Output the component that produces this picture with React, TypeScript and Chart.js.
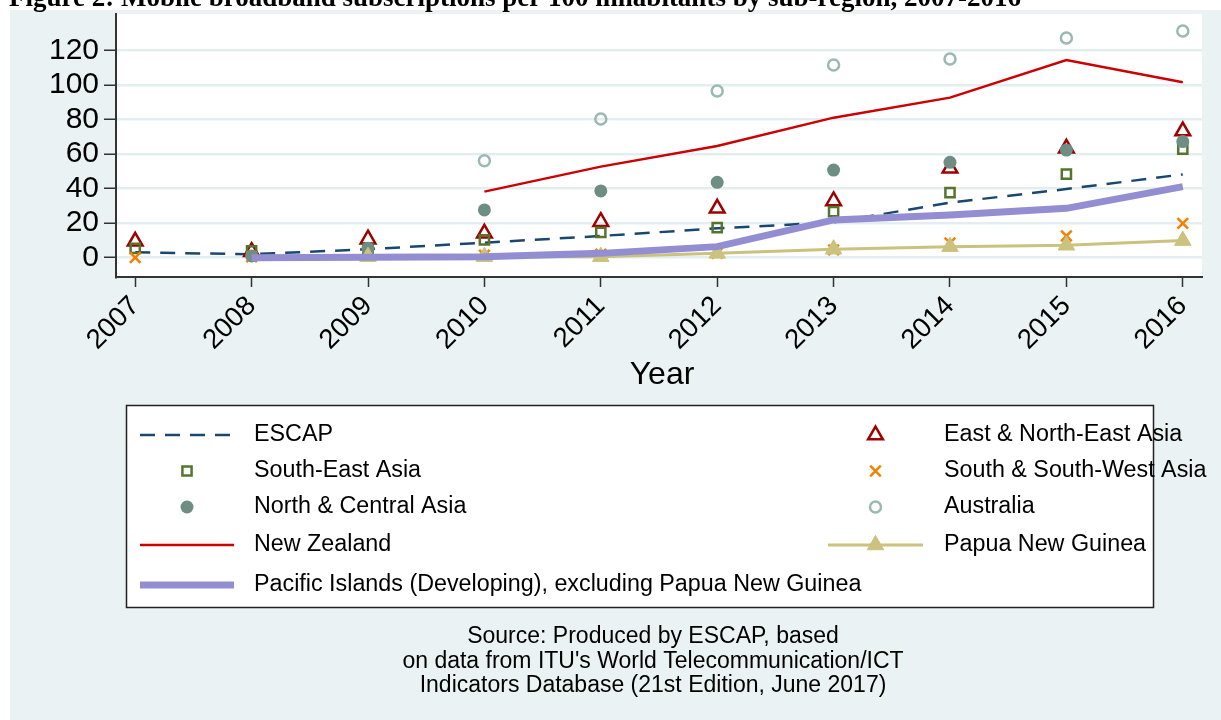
import React, { useEffect, useRef } from 'react';
import { Chart, registerables } from 'chart.js';
import { drawPoint } from 'chart.js/helpers';

Chart.register(...registerables);

const FONT = '"Liberation Sans", Arial, Helvetica, sans-serif';

const titleText = 'Figure 2: Mobile broadband subscriptions per 100 inhabitants by sub-region, 2007-2016';
const xTitle = 'Year';
const sourceLines = [
  'Source: Produced by ESCAP, based',
  "on data from ITU's World Telecommunication/ICT",
  'Indicators Database (21st Edition, June 2017)',
];

const years = [2007, 2008, 2009, 2010, 2011, 2012, 2013, 2014, 2015, 2016];
const yTicks = [0, 20, 40, 60, 80, 100, 120];

const seriesLabels = [
  'ESCAP',
  'East & North-East Asia',
  'South-East Asia',
  'South & South-West Asia',
  'North & Central Asia',
  'Australia',
  'New Zealand',
  'Papua New Guinea',
  'Pacific Islands (Developing), excluding Papua New Guinea',
];

const escap = [3.1, 2.0, 4.9, 8.7, 12.6, 17.0, 20.5, 31.9, 39.8, 48.3];
const eastNorthEast = [9.5, 3.5, 10.7, 14.1, 20.9, 28.6, 32.9, 51.8, 63.4, 73.4];
const southEast = [5.4, 3.9, 5.2, 10.3, 14.7, 17.4, 26.7, 37.7, 48.5, 63.0];
const southSouthWest = [0.0, 0.5, 1.0, 1.5, 2.0, 2.6, 4.5, 8.5, 12.6, 19.9];
const northCentral = [null, 1.0, 5.4, 27.7, 38.7, 43.7, 50.8, 55.3, 62.4, 67.3];
const australia = [null, null, null, 56.2, 80.4, 96.6, 111.7, 115.2, 127.4, 131.4];
const newZealand = [null, null, null, 38.3, 52.8, 64.8, 81.2, 92.8, 114.6, 101.7];
const papuaNewGuinea = [null, null, 0.6, 0.6, 0.6, 2.5, 4.9, 6.4, 7.2, 9.9];
const pacificIslands = [null, 0.0, 0.3, 0.5, 2.5, 6.4, 21.9, 24.8, 28.6, 41.2];

const seriesValues = [
  escap,
  eastNorthEast,
  southEast,
  southSouthWest,
  northCentral,
  australia,
  newZealand,
  papuaNewGuinea,
  pacificIslands,
];

type Style = {
  color: string;
  showLine: boolean;
  lineWidth?: number;
  dash?: number[];
  pointStyle?: string;
  radius?: number;
  fill?: string;
  pointBorder?: number;
};

const styles: Style[] = [
  { color: '#1a476f', showLine: true, lineWidth: 2.5, dash: [15, 10] },
  { color: '#9e0000', showLine: false, pointStyle: 'triangle', radius: 8.5, fill: 'rgba(0,0,0,0)', pointBorder: 2.5 },
  { color: '#55752f', showLine: false, pointStyle: 'rect', radius: 6.5, fill: 'rgba(0,0,0,0)', pointBorder: 2.5 },
  { color: '#f58000', showLine: false, pointStyle: 'crossRot', radius: 7.5, fill: 'rgba(0,0,0,0)', pointBorder: 2.5 },
  { color: '#6e8e84', showLine: false, pointStyle: 'circle', radius: 6.5, fill: '#6e8e84', pointBorder: 0 },
  { color: '#9ab9b0', showLine: false, pointStyle: 'circle', radius: 5.5, fill: 'rgba(0,0,0,0)', pointBorder: 2.5 },
  { color: '#cc0000', showLine: true, lineWidth: 2.5 },
  { color: '#cac27e', showLine: true, lineWidth: 3, pointStyle: 'triangle', radius: 9.5, fill: '#cac27e', pointBorder: 1 },
  { color: '#938dd2', showLine: true, lineWidth: 7 },
];

// legend slots: [lineStart, lineEnd, textX, rowY]
const legendSlots = [
  [140, 234, 254, 435],
  [828, 923, 944, 435],
  [140, 234, 254, 471],
  [828, 923, 944, 471],
  [140, 234, 254, 507],
  [828, 923, 944, 507],
  [140, 234, 254, 545],
  [828, 923, 944, 545],
  [140, 234, 254, 585],
];

const backgroundPlugin = {
  id: 'bgPlugin',
  beforeDraw(chart: any) {
    const { ctx, width, height, chartArea } = chart;
    ctx.save();
    ctx.fillStyle = '#ffffff';
    ctx.fillRect(0, 0, width, height);
    ctx.fillStyle = '#eaf2f3';
    ctx.fillRect(10, 10, width - 10, height - 10);
    ctx.fillStyle = '#ffffff';
    ctx.fillRect(chartArea.left, chartArea.top, chartArea.right - chartArea.left, chartArea.bottom - chartArea.top);
    // title (cropped at top like the reference)
    ctx.fillStyle = '#000';
    let size = 24;
    ctx.font = `bold ${size}px "Liberation Serif", "Times New Roman", serif`;
    const w = ctx.measureText(titleText).width;
    size = (size * 1012) / w;
    ctx.font = `bold ${size}px "Liberation Serif", "Times New Roman", serif`;
    ctx.textAlign = 'left';
    ctx.textBaseline = 'alphabetic';
    ctx.fillText(titleText, 9, 6);
    ctx.restore();
  },
};

const annotationPlugin = {
  id: 'annotations',
  afterDraw(chart: any) {
    const { ctx } = chart;
    ctx.save();
    // x-axis title
    ctx.fillStyle = '#000';
    ctx.font = `32px ${FONT}`;
    ctx.textAlign = 'center';
    ctx.textBaseline = 'middle';
    ctx.fillText(xTitle, 662, 375);

    // legend box
    ctx.fillStyle = '#ffffff';
    ctx.fillRect(126, 405, 1027, 202);
    ctx.strokeStyle = '#222';
    ctx.lineWidth = 1.5;
    ctx.strokeRect(126.5, 405.5, 1027, 202);

    chart.data.datasets.forEach((ds: any, i: number) => {
      const [x1, x2, tx, y] = legendSlots[i];
      const st = styles[i];
      if (st.showLine) {
        ctx.beginPath();
        ctx.setLineDash(st.dash || []);
        ctx.strokeStyle = st.color;
        ctx.lineWidth = st.lineWidth || 2;
        ctx.moveTo(x1, y);
        ctx.lineTo(x2, y);
        ctx.stroke();
        ctx.setLineDash([]);
      }
      if (st.pointStyle) {
        ctx.fillStyle = st.fill || st.color;
        ctx.strokeStyle = st.color;
        ctx.lineWidth = st.pointBorder || 0;
        drawPoint(ctx, { pointStyle: st.pointStyle as any, radius: st.radius || 5, rotation: 0, borderWidth: st.pointBorder || 0 } as any, (x1 + x2) / 2, y);
      }
      ctx.fillStyle = '#000';
      ctx.font = `23.3px ${FONT}`;
      ctx.textAlign = 'left';
      ctx.textBaseline = 'middle';
      ctx.fillText(ds.label, tx, y);
    });

    // source note
    ctx.fillStyle = '#000';
    ctx.font = `23px ${FONT}`;
    ctx.textAlign = 'center';
    ctx.textBaseline = 'middle';
    const lineYs = [637, 662, 686];
    sourceLines.forEach((t, i) => ctx.fillText(t, 653, lineYs[i]));
    ctx.restore();
  },
};

export default function App() {
  const canvasRef = useRef<HTMLCanvasElement | null>(null);

  useEffect(() => {
    if (!canvasRef.current) return;
    const datasets = seriesLabels.map((label, i) => {
      const st = styles[i];
      return {
        label,
        data: years.map((x, j) => ({ x, y: seriesValues[i][j] })),
        showLine: st.showLine,
        borderColor: st.color,
        borderWidth: st.lineWidth || 0,
        borderDash: st.dash || [],
        tension: 0,
        fill: false,
        spanGaps: false,
        pointStyle: (st.pointStyle || 'circle') as any,
        pointRadius: st.pointStyle ? st.radius : 0,
        pointHoverRadius: st.pointStyle ? st.radius : 0,
        pointBackgroundColor: st.fill || st.color,
        pointBorderColor: st.color,
        pointBorderWidth: st.pointBorder || 0,
        order: seriesLabels.length - i,
        clip: false as any,
      };
    });

    const chart = new Chart(canvasRef.current, {
      type: 'line',
      data: { datasets: datasets as any },
      options: {
        animation: false,
        responsive: false,
        devicePixelRatio: 1,
        layout: { padding: { left: 0, top: 14, right: 19, bottom: 343 } },
        plugins: {
          legend: { display: false },
          tooltip: { enabled: false },
          title: { display: false },
        },
        scales: {
          x: {
            type: 'linear',
            min: 2006.835,
            max: 2016.165,
            afterBuildTicks: (s: any) => {
              s.ticks = years.map((v) => ({ value: v }));
            },
            afterFit: (s: any) => {
              s.height = 100;
              s.paddingLeft = 0;
              s.paddingRight = 0;
              s.paddingTop = 0;
              s.paddingBottom = 0;
            },
            ticks: {
              autoSkip: false,
              maxRotation: 45,
              minRotation: 45,
              padding: 3,
              color: '#000',
              font: { size: 27.5, family: FONT },
              callback: (v: any) => String(v),
            },
            grid: {
              drawOnChartArea: false,
              drawTicks: true,
              tickLength: 10,
              tickColor: '#333',
              tickWidth: 1.5,
            },
            border: { display: true, color: '#333', width: 2 },
          },
          y: {
            type: 'linear',
            min: -11.2,
            max: 141.3,
            afterBuildTicks: (s: any) => {
              s.ticks = yTicks.map((v) => ({ value: v }));
            },
            afterFit: (s: any) => {
              s.width = 116;
              s.paddingLeft = 0;
              s.paddingRight = 0;
              s.paddingTop = 0;
              s.paddingBottom = 0;
            },
            ticks: {
              padding: 5,
              color: '#000',
              font: { size: 30, family: FONT },
              callback: (v: any) => String(v),
            },
            grid: {
              color: '#e4edf0',
              lineWidth: 2.5,
              drawTicks: true,
              tickLength: 12,
              tickColor: '#333',
              tickWidth: 1.5,
            },
            border: { display: true, color: '#333', width: 2 },
          },
        },
      },
      plugins: [backgroundPlugin, annotationPlugin],
    });
    return () => chart.destroy();
  }, []);

  return (
    <div style={{ position: 'absolute', left: 0, top: 0, width: 1221, height: 720 }}>
      <canvas ref={canvasRef} width={1221} height={720} style={{ display: 'block' }} />
    </div>
  );
}
